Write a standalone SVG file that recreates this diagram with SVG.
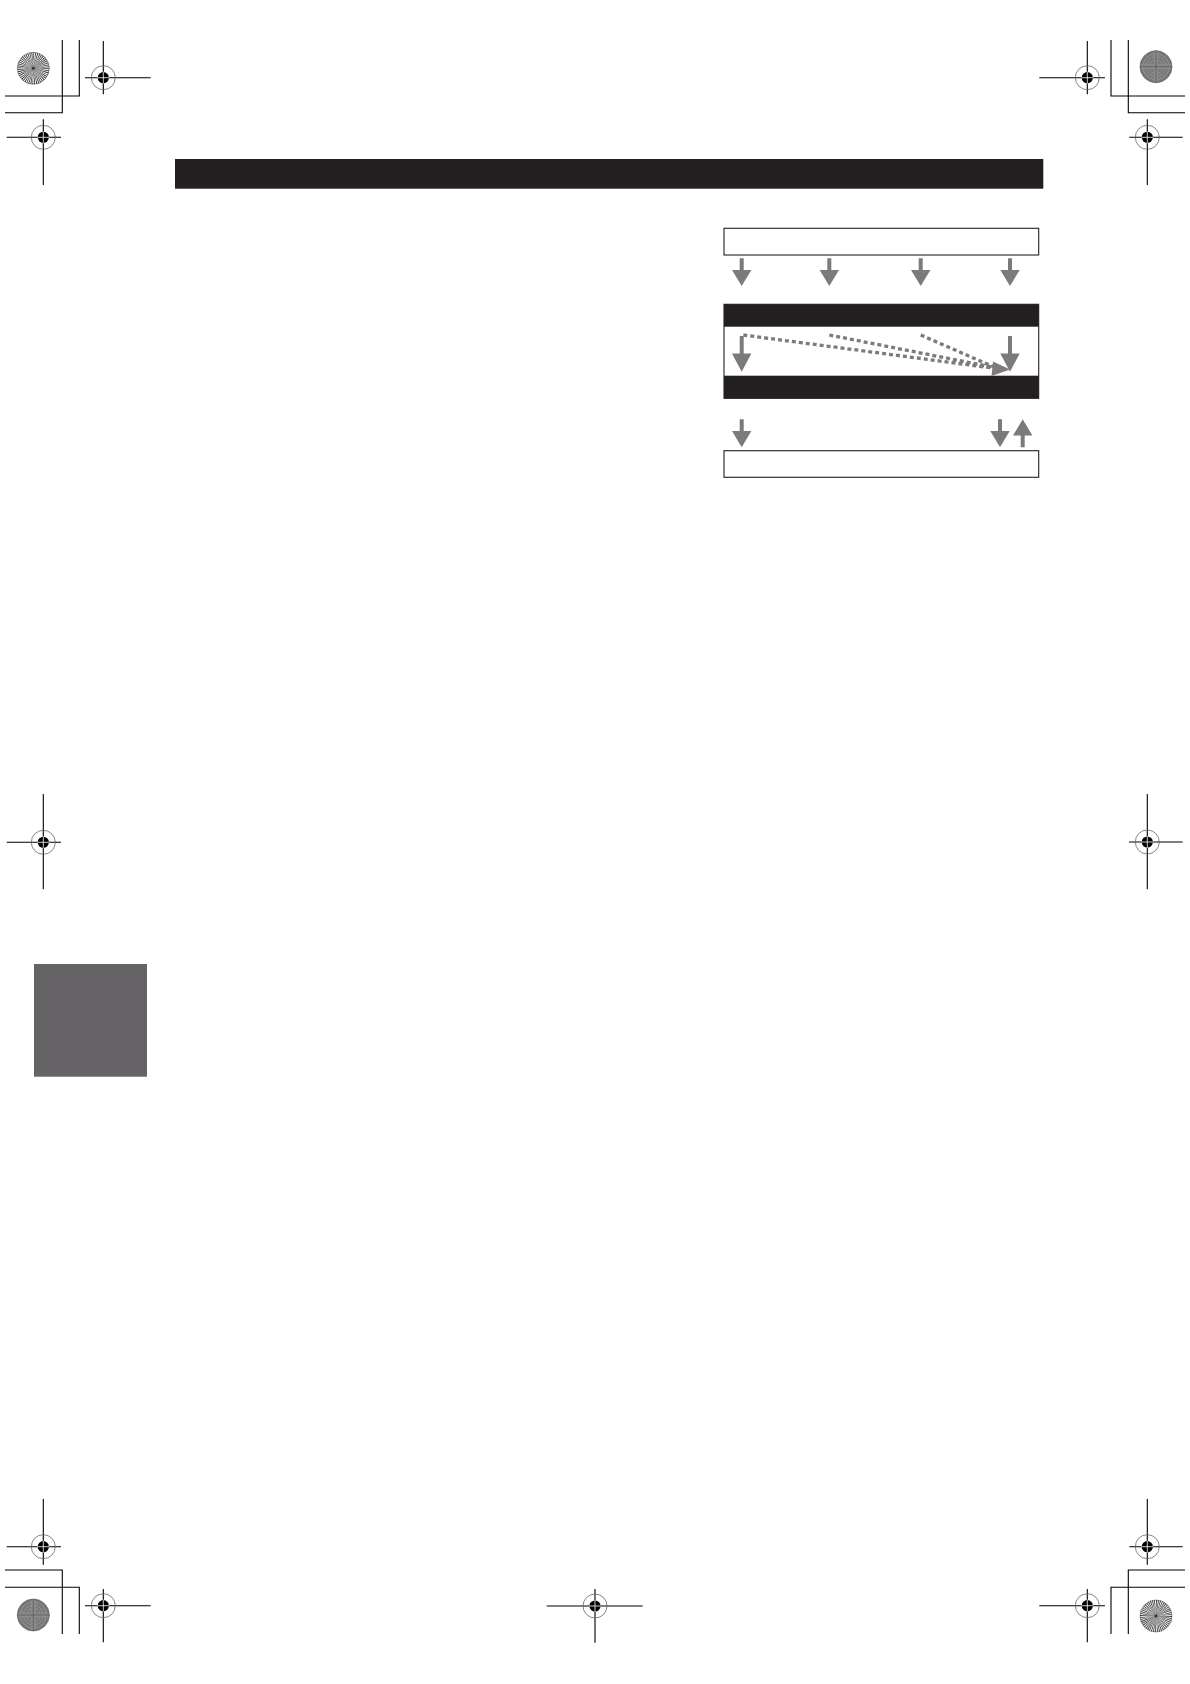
<svg xmlns="http://www.w3.org/2000/svg" width="1190" height="1684" viewBox="0 0 1190 1684">
<style>
.reg-line{stroke:#000;stroke-width:1.1;fill:none}
.ring{fill:none;stroke:#666;stroke-width:0.8}
.disc{fill:#000}
.wx{stroke:#fff;stroke-width:0.8}
.box{fill:#fff;stroke:#231f20;stroke-width:1.1}
.band{fill:#231f20}
.shaft{stroke:#7b7b7b;stroke-width:4;fill:none}
.head{fill:#7b7b7b}
.dot{stroke:#7b7b7b;stroke-width:3.3;stroke-dasharray:4 3;fill:none}
</style>
<defs>
<g id="target">
<circle class="ring" r="12"/>
<circle class="disc" r="5.6"/>
<line class="wx" x1="-6" y1="0" x2="6" y2="0"/>
<line class="wx" x1="0" y1="-6" x2="0" y2="6"/>
</g>
<g id="burstFine">
<circle r="16" fill="#fff"/>
<circle r="8" fill="none" stroke="#3a3a3a" stroke-width="16" stroke-dasharray="0.52 0.52"/>
<circle r="3" fill="#888"/>
<circle r="1.2" fill="#222"/>
<circle r="16" fill="none" stroke="#555" stroke-width="0.6"/>
</g>
<g id="burstCross">
<circle r="16" fill="#777"/>
<circle r="13" fill="none" stroke="#999" stroke-width="0.8"/>
<circle r="10" fill="none" stroke="#999" stroke-width="0.8"/>
<circle r="7" fill="none" stroke="#999" stroke-width="0.8"/>
<rect x="-2.5" y="-16" width="5" height="32" fill="#8a8a8a"/>
<rect x="-16" y="-2.5" width="32" height="5" fill="#8a8a8a"/>
<line x1="0" y1="-16" x2="0" y2="16" stroke="#555" stroke-width="0.7"/>
<line x1="-16" y1="0" x2="16" y2="0" stroke="#555" stroke-width="0.7"/>
<circle r="16" fill="none" stroke="#555" stroke-width="0.6"/>
</g>
</defs>
<rect width="1190" height="1684" fill="#fff"/>

<g id="printer-marks">
<path class="reg-line" d="M62.3,40 V112.7 H5 M79.3,40 V96 H5"/>
<path class="reg-line" d="M1111,40 V96 H1185 M1128.3,40 V112.7 H1185"/>
<path class="reg-line" d="M5,1570 H62.3 V1634 M5,1587.3 H79.3 V1634"/>
<path class="reg-line" d="M1185,1570 H1128.3 V1634 M1185,1587.3 H1111 V1634"/>
<use href="#burstFine" x="33.3" y="68.3"/>
<use href="#burstCross" x="1156" y="66.7"/>
<use href="#burstCross" x="33.3" y="1615"/>
<use href="#burstFine" x="1156" y="1616"/>
<path class="reg-line" d="M85,77.7 H150.7 M103.3,41 V94.3"/>
<path class="reg-line" d="M6.7,137.3 H61 M43.3,119.3 V185"/>
<path class="reg-line" d="M1039.3,77.7 H1105 M1087.3,41 V94.3"/>
<path class="reg-line" d="M1129.3,137.3 H1182.7 M1147.3,119.3 V185"/>
<path class="reg-line" d="M6.7,842.3 H61 M43.3,794 V889.3"/>
<path class="reg-line" d="M1129,842 H1182.7 M1147.3,794 V889.3"/>
<path class="reg-line" d="M6.7,1546.7 H61 M43.3,1499 V1564.7"/>
<path class="reg-line" d="M85,1605.7 H150.7 M103.3,1589 V1642.3"/>
<path class="reg-line" d="M1129.3,1546.7 H1182.7 M1147.3,1499 V1564.7"/>
<path class="reg-line" d="M1039.3,1605.7 H1105 M1087.3,1589 V1642.3"/>
<path class="reg-line" d="M546.7,1606 H642.7 M595,1589 V1642.7"/>
<use href="#target" x="103.3" y="77.7"/>
<use href="#target" x="43.3" y="137.3"/>
<use href="#target" x="1087.3" y="77.7"/>
<use href="#target" x="1147.3" y="137.3"/>
<use href="#target" x="43.3" y="842.3"/>
<use href="#target" x="1147.3" y="842"/>
<use href="#target" x="43.3" y="1546.7"/>
<use href="#target" x="103.3" y="1605.7"/>
<use href="#target" x="1147.3" y="1546.7"/>
<use href="#target" x="1087.3" y="1605.7"/>
<use href="#target" x="595" y="1606"/>
</g>

<g id="header-bar"><rect x="175" y="159" width="868.3" height="29.7" fill="#231f20"/></g>
<g id="side-tab"><rect x="34" y="964" width="113" height="112.7" fill="#656365"/></g>

<g id="top-box"><rect class="box" x="724" y="228.3" width="314.7" height="26.7"/></g>
<g id="middle-block">
<rect class="box" x="724" y="304.3" width="314.7" height="94"/>
<rect class="band" x="724" y="304.3" width="314.7" height="22.4"/>
<rect class="band" x="724" y="375.7" width="314.7" height="22.6"/>
</g>
<g id="bottom-box"><rect class="box" x="724" y="450.7" width="314.7" height="26.6"/></g>

<g id="connectors">
<path class="shaft" d="M741.7,258.3 V271 M829.3,258.3 V271 M920.7,258.3 V271 M1010,258.3 V271"/>
<path class="head" d="M732,270 H751.4 L741.7,286Z M819.6,270 H839 L829.3,286Z M911,270 H930.4 L920.7,286Z M1000.3,270 H1019.7 L1010,286Z"/>
<path class="dot" d="M743.3,335 L1000,369 M829.3,335 L997,368 M920.7,335 L994,367"/>
<path class="head" d="M1010,369.5 L993,361.5 L991.5,376Z"/>
<path class="shaft" d="M741.7,336 V355 M1010,336 V355"/>
<path class="head" d="M732,353.5 H751.4 L741.7,371.7Z M1000.3,353.5 H1019.7 L1010,371.7Z"/>
<path class="shaft" d="M741.7,419.3 V432 M1000,419.3 V432 M1022.7,447.3 V434"/>
<path class="head" d="M732,431 H751.4 L741.7,447.3Z M990.3,431 H1009.7 L1000,447.3Z M1013,435.6 H1032.4 L1022.7,419.3Z"/>
</g>
</svg>
